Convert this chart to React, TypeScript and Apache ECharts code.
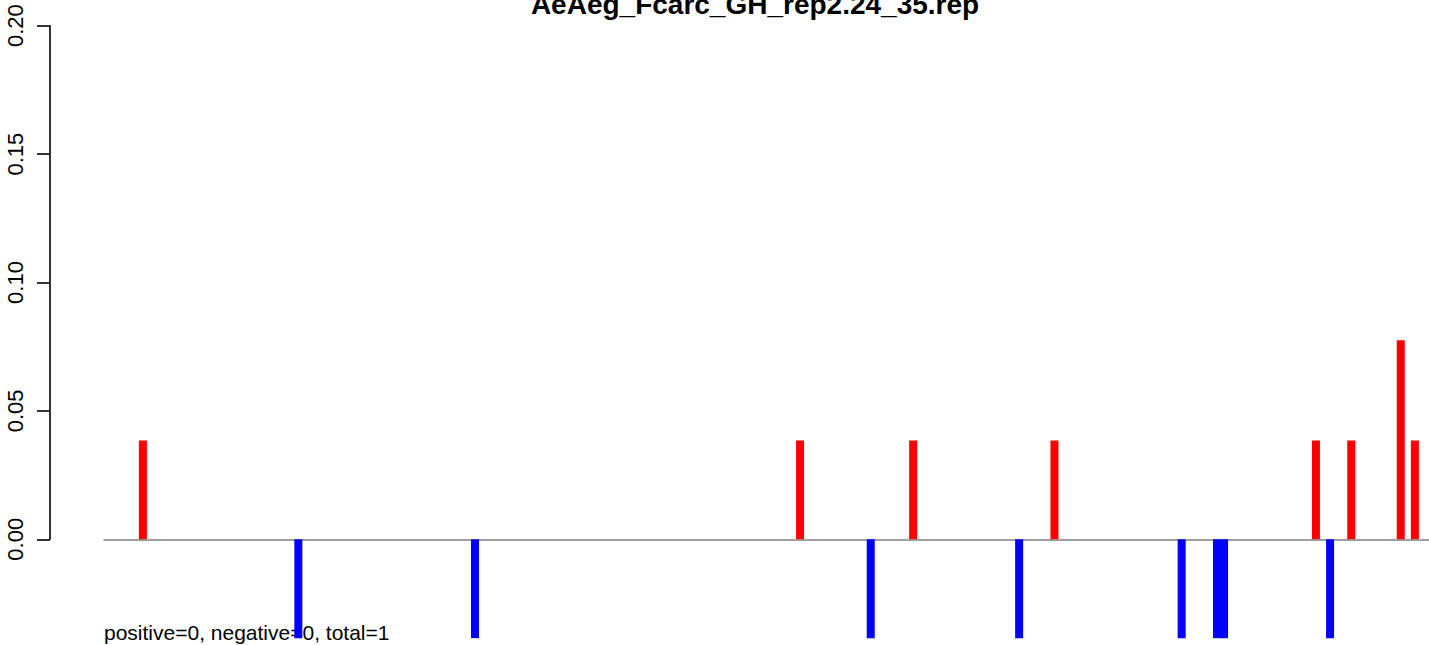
import React, { useEffect, useRef } from "react";
import * as echarts from "echarts";

const TITLE = "AeAeg_Fcarc_GH_rep2.24_35.rep";
const NOTE = "positive=0, negative=0, total=1";
const Y_TICKS = [0, 0.05, 0.1, 0.15, 0.2];
const POS_POSITIONS = [6, 99, 115, 135, 172, 177, 184, 186];
const POS_VALUES = [0.0385, 0.0385, 0.0385, 0.0385, 0.0385, 0.0385, 0.0775, 0.0385];
const NEG_POSITIONS = [28, 53, 109, 130, 153, 158, 159, 174];
const NEG_VALUES = [-0.0385, -0.0385, -0.0385, -0.0385, -0.0385, -0.0385, -0.0385, -0.0385];

const FONT = "'Liberation Sans', Arial, Helvetica, sans-serif";

export default function App() {
  const ref = useRef<HTMLDivElement>(null);
  useEffect(() => {
    if (!ref.current) return;
    const chart = echarts.init(ref.current, null, { renderer: "svg" });
    const posData = POS_POSITIONS.map((p, i) => [p, POS_VALUES[i]]);
    const negData = NEG_POSITIONS.map((p, i) => [p, NEG_VALUES[i]]);
    chart.setOption({
      animation: false,
      backgroundColor: "#ffffff",
      grid: [
        { left: 50, right: 20, top: 25.7, bottom: 105.7, containLabel: false },
        { left: 104, right: 0, top: 25.7, bottom: 3.0, containLabel: false },
      ],
      xAxis: [
        { gridIndex: 0, type: "value", show: false, min: 0, max: 1 },
        {
          gridIndex: 1,
          type: "value",
          min: 0.5,
          max: 188,
          axisLine: { show: true, onZero: true, lineStyle: { color: "#808080", width: 1.5 } },
          axisTick: { show: false },
          axisLabel: { show: false },
          splitLine: { show: false },
        },
      ],
      yAxis: [
        {
          gridIndex: 0,
          type: "value",
          min: Y_TICKS[0],
          max: Y_TICKS[Y_TICKS.length - 1],
          interval: 0.05,
          axisLine: { show: true, lineStyle: { color: "#000", width: 1.6 } },
          axisTick: { show: true, length: 13, lineStyle: { color: "#000", width: 1.6 } },
          splitLine: { show: false },
          axisLabel: {
            rotate: 90,
            margin: 24,
            fontSize: 22,
            color: "#000",
            fontFamily: FONT,
            formatter: (v: number) => v.toFixed(2),
          },
        },
        {
          gridIndex: 1,
          type: "value",
          min: -0.04,
          max: 0.2,
          show: false,
          splitLine: { show: false },
        },
      ],
      graphic: [
        {
          type: "text",
          x: 755,
          y: 4.8,
          z: 10,
          style: {
            text: TITLE,
            fontSize: 28,
            fontWeight: "bold",
            fontFamily: FONT,
            fill: "#000",
            textAlign: "center",
            textVerticalAlign: "middle",
          },
        },
        {
          type: "text",
          x: 104,
          y: 632.7,
          z: 0,
          zlevel: 0,
          style: {
            text: NOTE,
            fontSize: 21,
            fontFamily: FONT,
            fill: "#000",
            textAlign: "left",
            textVerticalAlign: "middle",
          },
        },
      ],
      series: [
        {
          type: "bar",
          xAxisIndex: 1,
          yAxisIndex: 1,
          data: posData,
          barWidth: 8,
          barGap: "-100%",
          itemStyle: { color: "#ff0000" },
          z: 5,
        },
        {
          type: "bar",
          xAxisIndex: 1,
          yAxisIndex: 1,
          data: negData,
          barWidth: 8,
          barGap: "-100%",
          itemStyle: { color: "#0000ff" },
          z: 5,
        },
      ],
    });
    return () => chart.dispose();
  }, []);
  return (
    <div
      ref={ref}
      style={{ position: "fixed", left: 0, top: 0, width: 1429, height: 645, background: "#fff" }}
    />
  );
}
